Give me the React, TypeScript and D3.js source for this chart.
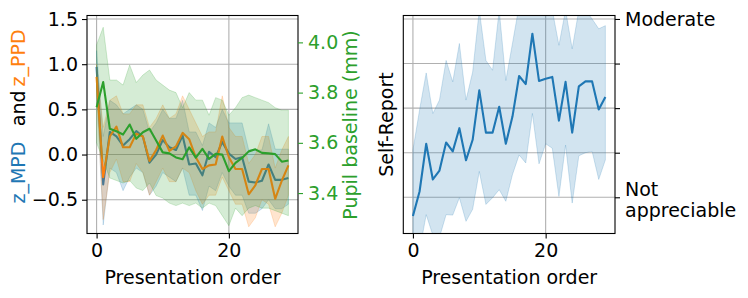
import { useEffect, useRef } from "react";
import * as d3 from "d3";

const ORDER = d3.range(30);

// left panel, z-scored dilations (left axis)
const MPD_MEAN = [0.97, -0.33, 0.25, 0.2, 0.1, 0.17, 0.26, 0.2, -0.09, 0.0, 0.16, 0.08, 0.05, 0.21, -0.11, -0.1, -0.23, 0.03, -0.03, 0.14, 0.01, -0.05, -0.03, -0.3, -0.31, -0.29, -0.11, -0.28, -0.28, -0.26];
const MPD_HI = [1.15, 0.2, 0.6, 0.55, 0.45, 0.5, 0.55, 0.5, 0.25, 0.35, 0.5, 0.4, 0.4, 0.6, 0.25, 0.25, 0.1, 0.35, 0.3, 0.5, 0.35, 0.35, 0.35, 0.05, 0.05, 0.05, 0.34, 0.06, 0.06, 0.06];
const MPD_LO = [0.75, -0.78, -0.15, -0.2, -0.4, -0.25, -0.15, -0.2, -0.45, -0.35, -0.2, -0.25, -0.3, -0.15, -0.45, -0.45, -0.62, -0.35, -0.4, -0.2, -0.35, -0.45, -0.45, -0.65, -0.65, -0.6, -0.5, -0.6, -0.6, -0.55];

const PPD_MEAN = [0.86, -0.25, 0.2, 0.31, 0.08, 0.08, 0.23, 0.2, -0.07, 0.05, 0.21, 0.04, 0.09, 0.24, 0.17, -0.03, -0.16, -0.12, -0.11, 0.2, -0.03, -0.16, -0.16, -0.44, -0.34, -0.16, -0.16, -0.49, -0.29, -0.12];
const PPD_HI = [1.0, 0.3, 0.6, 0.65, 0.45, 0.45, 0.55, 0.55, 0.3, 0.4, 0.55, 0.4, 0.45, 0.65, 0.5, 0.35, 0.2, 0.25, 0.25, 0.65, 0.3, 0.2, 0.2, -0.1, 0.0, 0.2, 0.2, -0.15, 0.05, 0.2];
const PPD_LO = [0.7, -0.72, -0.2, -0.05, -0.3, -0.3, -0.1, -0.2, -0.45, -0.3, -0.15, -0.3, -0.3, -0.15, -0.2, -0.4, -0.55, -0.45, -0.45, -0.25, -0.4, -0.55, -0.55, -0.8, -0.7, -0.5, -0.55, -0.8, -0.65, -0.45];

// left panel, baseline pupil size in mm (right axis)
const BASE_MEAN = [3.742, 3.842, 3.656, 3.646, 3.633, 3.673, 3.616, 3.642, 3.656, 3.609, 3.562, 3.558, 3.542, 3.535, 3.582, 3.541, 3.576, 3.536, 3.556, 3.553, 3.487, 3.52, 3.54, 3.566, 3.574, 3.56, 3.558, 3.555, 3.525, 3.53];
const BASE_HI = [3.99, 4.06, 3.85, 3.85, 3.83, 3.91, 3.84, 3.87, 3.89, 3.85, 3.83, 3.81, 3.8, 3.74, 3.8, 3.77, 3.77, 3.71, 3.78, 3.77, 3.71, 3.74, 3.78, 3.79, 3.78, 3.77, 3.76, 3.74, 3.73, 3.73];
const BASE_LO = [3.6, 3.53, 3.46, 3.45, 3.44, 3.45, 3.42, 3.41, 3.44, 3.39, 3.38, 3.36, 3.35, 3.36, 3.35, 3.36, 3.34, 3.36, 3.35, 3.31, 3.27, 3.34, 3.31, 3.34, 3.35, 3.34, 3.34, 3.33, 3.32, 3.31];

// right panel, self-report rating
const SR_MEAN = [0.58, 1.13, 2.2, 1.4, 1.6, 2.23, 2.03, 2.55, 1.83, 2.29, 3.4, 2.45, 2.45, 3.03, 2.2, 2.81, 3.72, 3.54, 4.67, 3.61, 3.66, 3.7, 2.72, 3.59, 2.45, 3.49, 3.6, 3.6, 2.97, 3.25];
const SR_HI = [2.06, 2.96, 3.79, 2.88, 3.18, 4.07, 3.59, 4.45, 3.18, 3.81, 5.2, 4.07, 3.85, 5.2, 3.62, 4.45, 5.3, 5.3, 5.3, 5.2, 5.2, 5.2, 4.41, 5.2, 4.33, 5.2, 5.2, 5.0, 4.78, 4.85];
const SR_LO = [-0.3, -0.2, 0.61, 0.15, 0.1, 0.61, 0.6, 0.99, 0.46, 0.73, 1.58, 0.84, 0.99, 1.17, 0.91, 1.51, 1.95, 1.77, 2.88, 1.75, 2.2, 2.1, 1.02, 2.17, 0.87, 1.93, 2.0, 2.03, 1.4, 1.84];

const X_TICKS = [0, 20];
const Z_TICKS = [-0.5, 0.0, 0.5, 1.0, 1.5];
const MM_TICKS = [3.4, 3.6, 3.8, 4.0];
const SR_TICKS = [1, 2, 3, 4, 5];
const SR_LABELS = ["Not\nappreciable", "", "", "", "Moderate"];

const BLUE = "#1f77b4";
const ORANGE = "#ff7f0e";
const GREEN = "#2ca02c";
const FONT = "DejaVu Sans, sans-serif";
const FS = 19;

export default function App() {
  const ref = useRef<SVGSVGElement>(null);

  useEffect(() => {
    if (!ref.current) return;
    const svg = d3.select(ref.current);
    svg.selectAll("*").remove();

    const top = 15.5;
    const bot = 233.5;

    const drawBand = (g: any, x: any, y: any, lo: number[], hi: number[], color: string) => {
      const area = d3
        .area<number>()
        .x((i) => x(i))
        .y0((i) => y(lo[i]))
        .y1((i) => y(hi[i]));
      g.append("path").attr("d", area(ORDER)).attr("fill", color).attr("fill-opacity", 0.2).attr("stroke", color).attr("stroke-opacity", 0.2).attr("stroke-width", 1);
    };
    const drawLine = (g: any, x: any, y: any, vals: number[], color: string) => {
      const line = d3
        .line<number>()
        .x((i) => x(i))
        .y((i) => y(vals[i]));
      g.append("path").attr("d", line(ORDER)).attr("fill", "none").attr("stroke", color).attr("stroke-width", 2.1).attr("stroke-linejoin", "round");
    };

    const defs = svg.append("defs");

    // ---------- left panel ----------
    const L = { x0: 87, x1: 298 };
    const xL = d3.scaleLinear().domain([-1.45, 30.45]).range([L.x0, L.x1]);
    const yZ = d3.scaleLinear().domain([-0.874, 1.539]).range([bot, top]);
    const yMM = d3.scaleLinear().domain([3.239, 4.107]).range([bot, top]);

    defs.append("clipPath").attr("id", "clipL").append("rect").attr("x", L.x0).attr("y", top).attr("width", L.x1 - L.x0).attr("height", bot - top);

    const gl = svg.append("g");
    gl.selectAll(".hg").data(Z_TICKS).join("line").attr("x1", L.x0).attr("x2", L.x1).attr("y1", (d) => yZ(d)).attr("y2", (d) => yZ(d)).attr("stroke", "#b0b0b0").attr("stroke-width", 1.1);
    gl.selectAll(".vg").data(X_TICKS).join("line").attr("x1", (d) => xL(d)).attr("x2", (d) => xL(d)).attr("y1", top).attr("y2", bot).attr("stroke", "#b0b0b0").attr("stroke-width", 1.1);

    const plotL = gl.append("g").attr("clip-path", "url(#clipL)");
    drawBand(plotL, xL, yZ, MPD_LO, MPD_HI, BLUE);
    drawLine(plotL, xL, yZ, MPD_MEAN, BLUE);
    drawBand(plotL, xL, yZ, PPD_LO, PPD_HI, ORANGE);
    drawLine(plotL, xL, yZ, PPD_MEAN, ORANGE);
    drawBand(plotL, xL, yMM, BASE_LO, BASE_HI, GREEN);
    drawLine(plotL, xL, yMM, BASE_MEAN, GREEN);

    gl.append("rect").attr("x", L.x0).attr("y", top).attr("width", L.x1 - L.x0).attr("height", bot - top).attr("fill", "none").attr("stroke", "#000").attr("stroke-width", 1.1);

    const lAxis = gl.append("g").attr("transform", `translate(${L.x0},0)`).call(d3.axisLeft(yZ).tickValues(Z_TICKS).tickSize(5).tickPadding(4).tickFormat((d) => d3.format(".1f")(+d).replace("-", "\u2212")));
    const rAxis = gl.append("g").attr("transform", `translate(${L.x1},0)`).call(d3.axisRight(yMM).tickValues(MM_TICKS).tickSize(5).tickPadding(5).tickFormat(d3.format(".1f")));
    const bAxisL = gl.append("g").attr("transform", `translate(0,${bot})`).call(d3.axisBottom(xL).tickValues(X_TICKS).tickSize(5).tickPadding(5).tickFormat(d3.format("d")));
    [lAxis, rAxis, bAxisL].forEach((a) => {
      a.select(".domain").remove();
      a.selectAll("text").attr("font-family", FONT).attr("font-size", FS).attr("fill", "#000");
      a.selectAll("line").attr("stroke", "#000").attr("stroke-width", 1.1);
    });
    rAxis.selectAll("text").attr("fill", GREEN);
    rAxis.selectAll("line").attr("stroke", GREEN);

    gl.append("text").attr("x", (L.x0 + L.x1) / 2).attr("y", 284).attr("text-anchor", "middle").attr("font-family", FONT).attr("font-size", FS).text("Presentation order");

    // the y label is made of three pieces placed one after another
    const yLabel: [string, string, number, string][] = [
      ["z_MPD", BLUE, 203.5, "start"],
      ["and", "#000", 90.5, "end"],
      ["z_PPD", ORANGE, 86.5, "start"],
    ];
    yLabel.forEach(([s, c, y, anchor]) => {
      gl.append("text").attr("transform", `translate(25,${y}) rotate(-90)`).attr("text-anchor", anchor).attr("font-family", FONT).attr("font-size", FS).attr("fill", c).text(s);
    });

    gl.append("text").attr("transform", "translate(357,125) rotate(-90)").attr("text-anchor", "middle").attr("font-family", FONT).attr("font-size", FS).attr("fill", GREEN).text("Pupil baseline (mm)");

    // ---------- right panel ----------
    const R = { x0: 403.3, x1: 615 };
    const xR = d3.scaleLinear().domain([-1.45, 30.45]).range([R.x0, R.x1]);
    const ySR = d3.scaleLinear().domain([0.1875, 5.078]).range([bot, top]);

    defs.append("clipPath").attr("id", "clipR").append("rect").attr("x", R.x0).attr("y", top).attr("width", R.x1 - R.x0).attr("height", bot - top);

    const gr = svg.append("g");
    gr.selectAll(".hg").data(SR_TICKS).join("line").attr("x1", R.x0).attr("x2", R.x1).attr("y1", (d) => ySR(d)).attr("y2", (d) => ySR(d)).attr("stroke", "#b0b0b0").attr("stroke-width", 1.1);
    gr.selectAll(".vg").data(X_TICKS).join("line").attr("x1", (d) => xR(d)).attr("x2", (d) => xR(d)).attr("y1", top).attr("y2", bot).attr("stroke", "#b0b0b0").attr("stroke-width", 1.1);

    const plotR = gr.append("g").attr("clip-path", "url(#clipR)");
    drawBand(plotR, xR, ySR, SR_LO, SR_HI, BLUE);
    drawLine(plotR, xR, ySR, SR_MEAN, BLUE);

    gr.append("rect").attr("x", R.x0).attr("y", top).attr("width", R.x1 - R.x0).attr("height", bot - top).attr("fill", "none").attr("stroke", "#000").attr("stroke-width", 1.1);

    const srAxis = gr.append("g").attr("transform", `translate(${R.x1},0)`).call(d3.axisRight(ySR).tickValues(SR_TICKS).tickSize(5).tickFormat(() => ""));
    const bAxisR = gr.append("g").attr("transform", `translate(0,${bot})`).call(d3.axisBottom(xR).tickValues(X_TICKS).tickSize(5).tickPadding(5).tickFormat(d3.format("d")));
    [srAxis, bAxisR].forEach((a) => {
      a.select(".domain").remove();
      a.selectAll("text").attr("font-family", FONT).attr("font-size", FS).attr("fill", "#000");
      a.selectAll("line").attr("stroke", "#000").attr("stroke-width", 1.1);
    });

    SR_TICKS.forEach((t, i) => {
      const lines = SR_LABELS[i] ? SR_LABELS[i].split("\n") : [];
      const lh = 21.5;
      const y0 = ySR(t) - ((lines.length - 1) * lh) / 2 + 7 + (lines.length > 1 ? 2 : 0);
      lines.forEach((s, k) => {
        gr.append("text").attr("x", R.x1 + 10).attr("y", y0 + k * lh).attr("font-family", FONT).attr("font-size", FS).attr("fill", "#000").text(s);
      });
    });

    gr.append("text").attr("x", (R.x0 + R.x1) / 2).attr("y", 284).attr("text-anchor", "middle").attr("font-family", FONT).attr("font-size", FS).text("Presentation order");
    gr.append("text").attr("transform", `translate(393,${(top + bot) / 2}) rotate(-90)`).attr("text-anchor", "middle").attr("font-family", FONT).attr("font-size", FS).text("Self-Report");
  }, []);

  return <svg ref={ref} width={748} height={298} style={{ position: "absolute", left: 0, top: 0, background: "#fff" }} />;
}
